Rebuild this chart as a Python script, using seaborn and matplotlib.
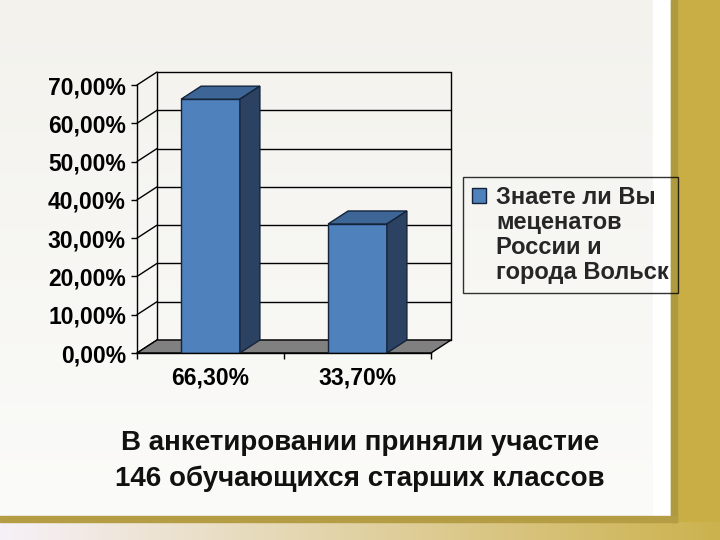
import matplotlib
matplotlib.use("Agg")
import matplotlib.pyplot as plt
import seaborn as sns
import numpy as np
from matplotlib.patches import Rectangle, Polygon, Patch

# ---- data ----
categories = ["66,30%", "33,70%"]
values = [66.3, 33.7]
yticks = [0, 10, 20, 30, 40, 50, 60, 70]
ytick_labels = ["0,00%", "10,00%", "20,00%", "30,00%", "40,00%", "50,00%", "60,00%", "70,00%"]
legend_lines = ["Знаете ли Вы", "меценатов", "России и", "города Вольск"]
caption = "В анкетировании приняли участие\n146 обучающихся старших классов"

sns.set_theme(style="white")
plt.rcParams['font.family'] = ['Liberation Sans', 'DejaVu Sans']

W, H = 720, 540
fig = plt.figure(figsize=(7.2, 5.4), dpi=100)
fig.patch.set_facecolor("#F3F2ED")

# ---- slide background ----
bg = fig.add_axes([0, 0, 1, 1], zorder=-10)
bg.set_xlim(0, W)
bg.set_ylim(H, 0)
bg.axis("off")
grad = np.linspace(0, 1, 256)
panel = np.zeros((256, 1, 3))
c_top = np.array([0xF3, 0xF2, 0xED]) / 255
c_bot = np.array([0xFB, 0xFB, 0xF9]) / 255
for i, t in enumerate(grad):
    panel[i, 0] = c_top * (1 - t) + c_bot * t
bg.imshow(panel, extent=(0, 653, 517, 0), aspect="auto", zorder=0)
bg.add_patch(Rectangle((653, 0), 18, 517, color="#FFFFFF", zorder=1))
bg.add_patch(Rectangle((671, 0), 49, 540, color="#C9AE45", zorder=1))
bg.add_patch(Rectangle((671, 0), 6, 522, color="#B09A40", zorder=2))
strip = np.zeros((1, 256, 3))
c_l = np.array([0xF6, 0xF1, 0xF8]) / 255
c_r = np.array([0xCC, 0xB2, 0x4E]) / 255
for i, t in enumerate(grad):
    strip[0, i] = c_l * (1 - t) + c_r * t
bg.imshow(strip, extent=(0, 720, 540, 522), aspect="auto", zorder=1)
bg.add_patch(Rectangle((0, 516), 677, 6, color="#B59D45", zorder=2))

# ---- chart axes ----
left, right, top, bottom = 137, 431, 85, 353
ax = fig.add_axes([left / W, 1 - bottom / H, (right - left) / W, (bottom - top) / H])
ax.set_facecolor("none")
ax.set_xlim(-0.5, 1.5)
ax.set_ylim(0, 70)

front = "#4F81BD"
topc = "#3D6595"
sidec = "#2B4262"
edge = "#14233A"

sns.barplot(x=categories, y=values, ax=ax, color=front, edgecolor=edge,
            linewidth=1, width=0.4, saturation=1, zorder=6)

# depth in data units (20 px right, 13 px up)
dx = 20 / ((right - left) / 2)
dy = 13 / ((bottom - top) / 70)

kw = dict(color="black", lw=1.0, clip_on=False, zorder=1)
for v in yticks:
    ax.plot([-0.5 + dx, 1.5 + dx], [v + dy, v + dy], **kw)
    ax.plot([-0.5, -0.5 + dx], [v, v + dy], **kw)
ax.plot([-0.5 + dx, -0.5 + dx], [dy, 70 + dy], **kw)
ax.plot([1.5 + dx, 1.5 + dx], [dy, 70 + dy], **kw)

floor = Polygon([(-0.5, 0), (1.5, 0), (1.5 + dx, dy), (-0.5 + dx, dy)],
                closed=True, facecolor="#808080", edgecolor="black", lw=1.0,
                clip_on=False, zorder=2)
ax.add_patch(floor)

for p in ax.patches[:]:
    if p is floor:
        continue
    x0 = p.get_x(); w = p.get_width(); h = p.get_height()
    if w <= 0 or h <= 0:
        continue
    x1 = x0 + w
    ax.add_patch(Polygon([(x0, h), (x1, h), (x1 + dx, h + dy), (x0 + dx, h + dy)],
                         closed=True, facecolor=topc, edgecolor=edge, lw=1,
                         clip_on=False, zorder=6))
    ax.add_patch(Polygon([(x1, 0), (x1 + dx, dy), (x1 + dx, h + dy), (x1, h)],
                         closed=True, facecolor=sidec, edgecolor=edge, lw=1,
                         clip_on=False, zorder=6))

for s in ["top", "right"]:
    ax.spines[s].set_visible(False)
for s in ["left", "bottom"]:
    ax.spines[s].set_visible(True)
    ax.spines[s].set_color("black")
    ax.spines[s].set_linewidth(1.0)
    ax.spines[s].set_zorder(7)

tick_font = dict(fontsize=16.5, fontweight="bold", color="black")
ax.set_yticks(yticks)
ax.set_yticklabels(ytick_labels, **tick_font)
ax.tick_params(axis="y", left=True, direction="out", length=4, width=1.0,
               color="black", pad=4)
ax.set_xticks([0, 1])
ax.set_xticklabels(categories, **tick_font)
ax.set_xticks([-0.5, 0.5, 1.5], minor=True)
ax.tick_params(axis="x", which="major", length=0, pad=10)
ax.tick_params(axis="x", which="minor", bottom=True, direction="out", length=4,
               width=1.0, color="black")
ax.set_xlabel("")
ax.set_ylabel("")
ax.grid(False)

# ---- legend ----
handles = [Patch(facecolor=front, edgecolor=edge, lw=1)] + \
          [Patch(facecolor="none", edgecolor="none") for _ in legend_lines[1:]]
leg = fig.legend(handles, legend_lines, loc="upper left",
                 bbox_to_anchor=(463 / W, 1 - 177 / H), borderaxespad=0,
                 frameon=True, fancybox=False, edgecolor="black",
                 facecolor="none", framealpha=None,
                 prop=dict(family="Liberation Sans", weight="bold", size=17),
                 handlelength=0.6, handleheight=0.6, handletextpad=0.42,
                 labelspacing=0.08, borderpad=0.38)
leg.get_frame().set_linewidth(1)

# ---- caption ----
fig.text(360 / W, 1 - 461 / H, caption, ha="center", va="center",
         fontsize=20, fontweight="bold", color="#111111", linespacing=1.42)

fig.savefig("out.png", dpi=100)
